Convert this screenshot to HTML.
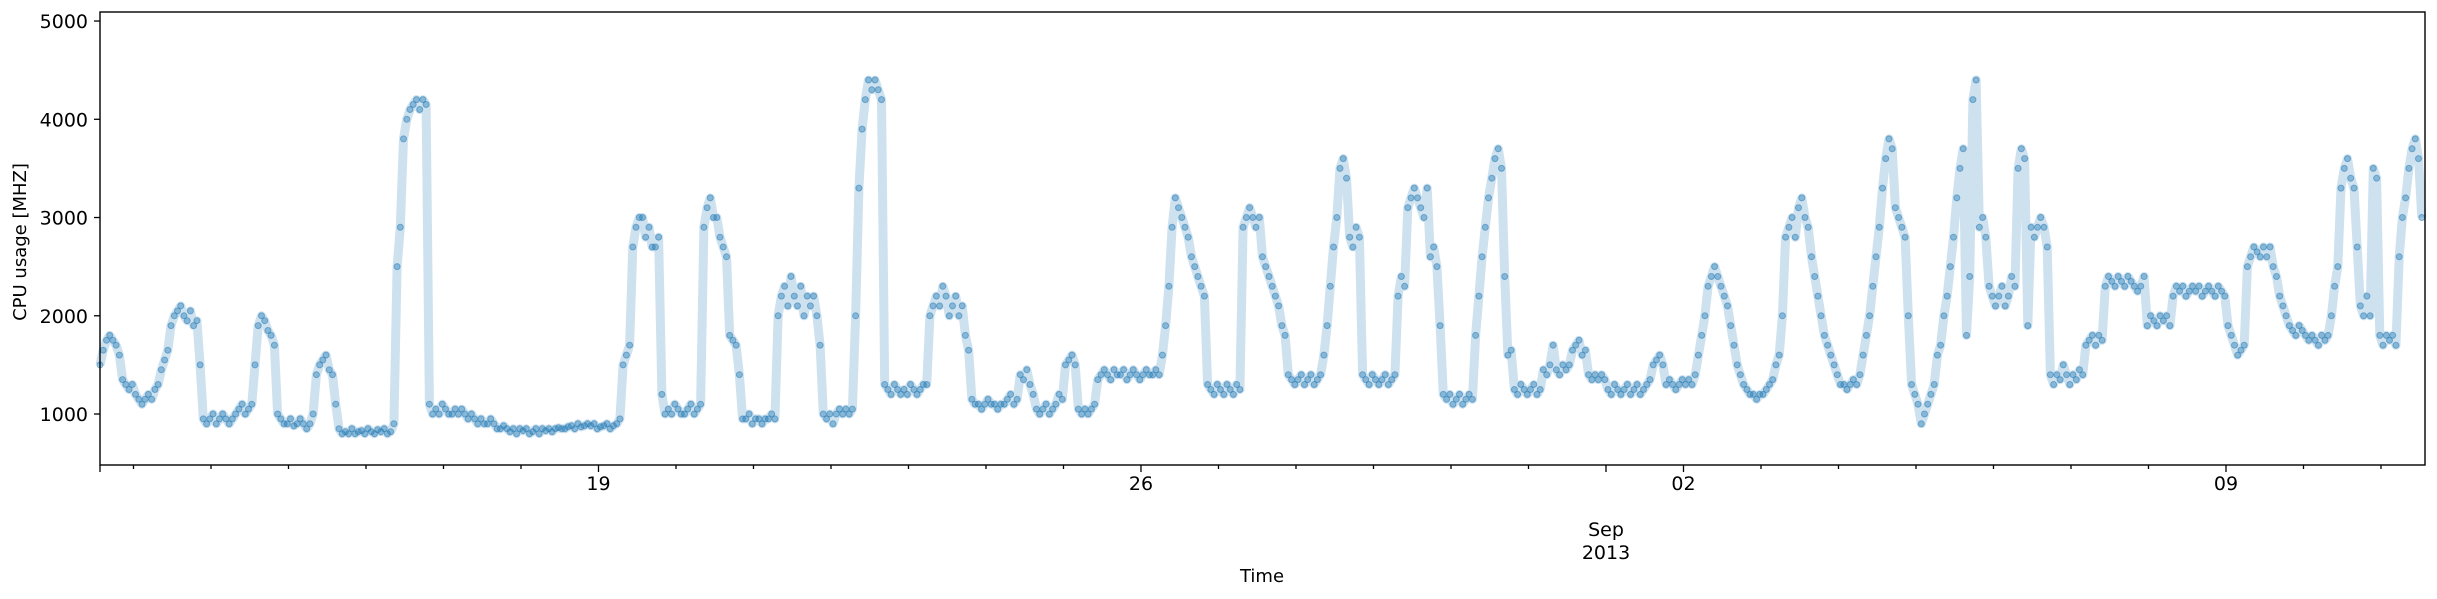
<!DOCTYPE html>
<html><head><meta charset="utf-8"><style>
html,body{margin:0;padding:0;background:#fff;}
svg{display:block;font-family:"DejaVu Sans","Liberation Sans",sans-serif;}
</style></head><body>
<svg id="chart" width="2437" height="599" viewBox="0 0 2437 599" xmlns="http://www.w3.org/2000/svg">
<rect x="0" y="0" width="2437" height="599" fill="#fff"/>
<g id="marks"></g>
<g id="axes"></g>
<rect x="100" y="12" width="2325" height="453" fill="none" stroke="#000" stroke-width="1.4"/>
<text x="0" y="0" transform="translate(26,242) rotate(-90)" text-anchor="middle" font-size="18">CPU usage [MHZ]</text>
<text x="1262" y="582" text-anchor="middle" font-size="18">Time</text>
<text x="1606" y="536" text-anchor="middle" font-size="19">Sep</text>
<text x="1606" y="559" text-anchor="middle" font-size="19">2013</text>
</svg>
<script>
// hourly CPU usage (MHz), starting Aug 12 ~13:38
const day00=[1500,1650,1750,1800,1750,1700,1600,1350,1300,1250,1300,1200,1150,1100,1150,1200,1150,1250,1300,1450,1550,1650,1900,2000];
const day01=[2050,2100,2000,1950,2050,1900,1950,1500,950,900,950,1000,900,950,1000,950,900,950,1000,1050,1100,1000,1050,1100];
const day02=[1500,1900,2000,1950,1850,1800,1700,1000,950,900,900,950,880,900,950,900,850,900,1000,1400,1500,1550,1600,1450];
const day03=[1400,1100,850,800,820,800,850,800,820,830,800,850,820,800,840,820,850,800,820,900,2500,2900,3800,4000];
const day04=[4100,4150,4200,4100,4200,4150,1100,1000,1050,1000,1100,1050,1000,1000,1050,1000,1050,1000,950,1000,950,900,950,900];
const day05=[900,950,900,850,850,880,850,820,850,800,850,830,850,800,820,850,800,850,830,850,820,850,860,850];
const day06=[850,870,880,850,900,870,880,900,880,900,850,870,880,900,850,880,900,950,1500,1600,1700,2700,2900,3000];
const day07=[3000,2800,2900,2700,2700,2800,1200,1000,1050,1000,1100,1050,1000,1000,1050,1100,1000,1050,1100,2900,3100,3200,3000,3000];
const day08=[2800,2700,2600,1800,1750,1700,1400,950,950,1000,900,950,950,900,950,950,1000,950,2000,2200,2300,2100,2400,2200];
const day09=[2100,2300,2000,2200,2100,2200,2000,1700,1000,950,1000,900,1000,1050,1000,1050,1000,1050,2000,3300,3900,4200,4400,4300];
const day10=[4400,4300,4200,1300,1250,1200,1300,1250,1200,1250,1200,1300,1250,1200,1250,1300,1300,2000,2100,2200,2100,2300,2200,2000];
const day11=[2100,2200,2000,2100,1800,1650,1150,1100,1100,1050,1100,1150,1100,1100,1050,1100,1100,1150,1200,1100,1150,1400,1350,1450];
const day12=[1300,1200,1050,1000,1050,1100,1000,1050,1100,1200,1150,1500,1550,1600,1500,1050,1000,1050,1000,1050,1100,1350,1400,1450];
const day13=[1400,1350,1450,1400,1400,1450,1350,1400,1450,1400,1350,1400,1450,1400,1400,1450,1400,1600,1900,2300,2900,3200,3100,3000];
const day14=[2900,2800,2600,2500,2400,2300,2200,1300,1250,1200,1300,1250,1200,1300,1250,1200,1300,1250,2900,3000,3100,3000,2900,3000];
const day15=[2600,2500,2400,2300,2200,2100,1900,1800,1400,1350,1300,1350,1400,1300,1350,1400,1300,1350,1400,1600,1900,2300,2700,3000];
const day16=[3500,3600,3400,2800,2700,2900,2800,1400,1350,1300,1400,1350,1300,1350,1400,1300,1350,1400,2200,2400,2300,3100,3200,3300];
const day17=[3200,3100,3000,3300,2600,2700,2500,1900,1200,1150,1200,1100,1150,1200,1100,1150,1200,1150,1800,2200,2600,2900,3200,3400];
const day18=[3600,3700,3500,2400,1600,1650,1250,1200,1300,1250,1200,1250,1300,1200,1250,1450,1400,1500,1700,1450,1400,1500,1450,1500];
const day19=[1650,1700,1750,1600,1650,1400,1350,1400,1350,1400,1350,1250,1200,1300,1250,1200,1250,1300,1200,1250,1300,1200,1250,1300];
const day20=[1350,1500,1550,1600,1500,1300,1350,1300,1250,1300,1350,1300,1350,1300,1400,1600,1800,2000,2300,2400,2500,2400,2300,2200];
const day21=[2100,1900,1700,1500,1400,1300,1250,1200,1200,1150,1200,1200,1250,1300,1350,1500,1600,2000,2800,2900,3000,2800,3100,3200];
const day22=[3000,2900,2600,2400,2200,2000,1800,1700,1600,1500,1400,1300,1300,1250,1300,1350,1300,1400,1600,1800,2000,2300,2600,2900];
const day23=[3300,3600,3800,3700,3100,3000,2900,2800,2000,1300,1200,1100,900,1000,1100,1200,1300,1600,1700,2000,2200,2500,2800,3200];
const day24=[3500,3700,1800,2400,4200,4400,2900,3000,2800,2300,2200,2100,2200,2300,2100,2200,2400,2300,3500,3700,3600,1900,2900,2800];
const day25=[2900,3000,2900,2700,1400,1300,1400,1350,1500,1400,1300,1400,1350,1450,1400,1700,1750,1800,1700,1800,1750,2300,2400,2350];
const day26=[2300,2400,2350,2300,2400,2350,2300,2250,2300,2400,1900,2000,1950,1900,2000,1950,2000,1900,2200,2300,2250,2300,2200,2250];
const day27=[2300,2250,2300,2200,2250,2300,2250,2200,2300,2250,2200,1900,1800,1700,1600,1650,1700,2500,2600,2700,2650,2600,2700,2600];
const day28=[2700,2500,2400,2200,2100,2000,1900,1850,1800,1900,1850,1800,1750,1800,1750,1700,1800,1750,1800,2000,2300,2500,3300,3500];
const day29=[3600,3400,3300,2700,2100,2000,2200,2000,3500,3400,1800,1700,1800,1750,1800,1700,2600,3000,3200,3500,3700,3800,3600,3000];
const yTicks=[1000,2000,3000,4000,5000];
const xTickLabels=['19','26','02','09'];
const xTickDays=[6,13,20,27]; // days after Aug 13 00:00
const startHourOfDay=13.63;

const usage=[].concat(day00,day01,day02,day03,day04,day05,day06,day07,day08,day09,day10,day11,day12,day13,day14,day15,day16,day17,day18,day19,day20,day21,day22,day23,day24,day25,day26,day27,day28,day29);

const X0=100,X1=2425,Y0=465,Y1=12,HMAX=720,VMIN=481,VMAX=5092;
function xs(h){return X0+(h/HMAX)*(X1-X0);}
function ys(v){return Y0-(v-VMIN)/(VMAX-VMIN)*(Y0-Y1);}
const NS='http://www.w3.org/2000/svg';
const marks=document.getElementById('marks');
const axes=document.getElementById('axes');

let pts=[];
usage.forEach((v,i)=>{pts.push(xs(i).toFixed(1)+','+ys(v).toFixed(1));});
const pl=document.createElementNS(NS,'polyline');


pl.setAttribute('points',pts.join(' '));
pl.setAttribute('fill','none');pl.setAttribute('stroke','#1f77b4');
pl.setAttribute('stroke-width','9');pl.setAttribute('stroke-opacity','0.22');
pl.setAttribute('stroke-linejoin','round');
marks.appendChild(pl);
usage.forEach((v,i)=>{
  const c=document.createElementNS(NS,'circle');
  
  
  c.setAttribute('cx',xs(i).toFixed(1));c.setAttribute('cy',ys(v).toFixed(1));
  c.setAttribute('r','3');c.setAttribute('fill','#1f77b4');c.setAttribute('fill-opacity','0.4');
  c.setAttribute('stroke','#1f77b4');c.setAttribute('stroke-opacity','0.5');c.setAttribute('stroke-width','1');
  marks.appendChild(c);
});

function line(x1,y1,x2,y2,name){
  const l=document.createElementNS(NS,'line');
  
  
  l.setAttribute('x1',x1);l.setAttribute('y1',y1);l.setAttribute('x2',x2);l.setAttribute('y2',y2);
  l.setAttribute('stroke','#000');l.setAttribute('stroke-width','1.3');
  axes.appendChild(l);
}
function text(x,y,s,anchor,name){
  const t=document.createElementNS(NS,'text');
  
  
  t.setAttribute('x',x);t.setAttribute('y',y);t.setAttribute('text-anchor',anchor);
  t.setAttribute('font-size','19');t.textContent=s;
  axes.appendChild(t);
}
yTicks.forEach(v=>{const y=ys(v);line(94,y,100,y,'y-tick');text(88,y+7,String(v),'end','y-tick-label');});
const firstMidnight=24-startHourOfDay;
line(X0,Y0,X0,Y0+7,'x-tick-start');
for(let d=0;d<31;d++){
  const h=firstMidnight+d*24; if(h>HMAX) break;
  const major=xTickDays.indexOf(d)>=0||d===19;
  line(xs(h),Y0,xs(h),Y0+(major?7:4),major?'x-major-tick':'x-minor-tick');
}
xTickLabels.forEach((s,i)=>{text(xs(firstMidnight+xTickDays[i]*24),490,s,'middle','x-tick-label');});
</script>
</body></html>
